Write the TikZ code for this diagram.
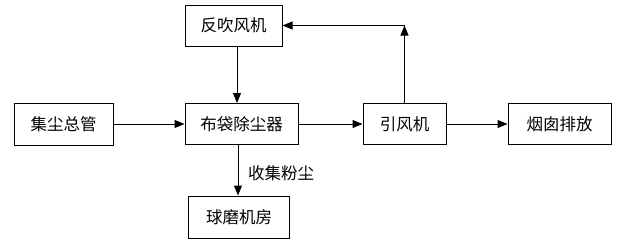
\documentclass[tikz,border=0pt]{standalone}
\usepackage{fontspec}
\newfontfamily\cjk{Noto Sans CJK SC}
\usetikzlibrary{arrows.meta}
\begin{document}
\begin{tikzpicture}[x=1pt,y=-1pt,
  box/.style={draw,line width=1pt,minimum height=41pt,inner sep=0pt,font=\cjk\fontsize{16.5}{19}\selectfont},
  arr/.style={line width=1pt,-{Triangle[length=10pt,width=8pt]}},
  lbl/.style={font=\cjk\fontsize{16.5}{19}\selectfont,inner sep=0pt}]
\useasboundingbox[fill=white] (0,0) rectangle (618,249);
\node[box,minimum width=97pt] (fc) at (233.5,25.5) {反吹风机};
\node[box,minimum width=99pt,minimum height=42pt] (jc) at (63.5,124) {集尘总管};
\node[box,minimum width=113pt] (bd) at (241.5,124) {布袋除尘器};
\node[box,minimum width=101pt,minimum height=42pt] (qm) at (239,217) {球磨机房};
\node[box,minimum width=83pt] (yf) at (404.5,124) {引风机};
\node[box,minimum width=103pt] (yc) at (559.5,124) {烟囱排放};
\node[lbl,anchor=west] (sj) at (248,173) {收集粉尘};
\draw[arr] (jc) -- (bd);
\draw[arr] (bd) -- (yf);
\draw[arr] (yf) -- (yc);
\draw[arr] ([xshift=3.5pt]fc.south) -- ([xshift=3.5pt]fc.south |- bd.north);
\draw[arr] ([xshift=-3.5pt]bd.south) -- ([xshift=-3.5pt]bd.south |- qm.north);
\coordinate (c) at (yf.north |- fc.east);
\draw[arr] (yf.north) -- (c);
\draw[arr] (c) -- (fc.east);
\end{tikzpicture}
\end{document}
